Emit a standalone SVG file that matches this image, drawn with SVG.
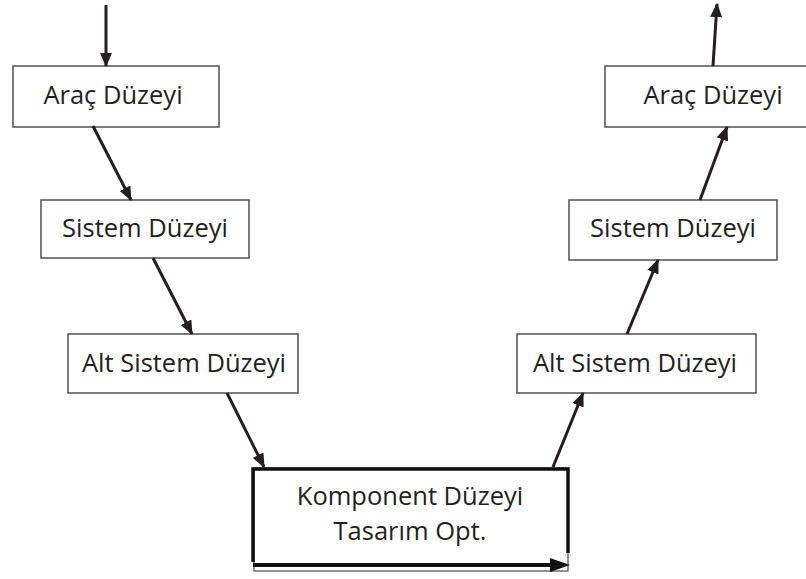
<svg xmlns="http://www.w3.org/2000/svg" width="806" height="579" viewBox="0 0 806 579">
<style>
.box{fill:#fff;stroke:#5a5a5a;stroke-width:1.6}
.lbl{font-family:"Open Sans","Noto Sans",sans-serif;font-size:25.5px;fill:#231f20;text-anchor:middle}
.con{stroke:#231f20;stroke-width:3;fill:none;marker-end:url(#ah)}
.thick{stroke:#111;stroke-width:3.5;fill:none}
</style>
<defs>
<marker id="ah" viewBox="0 0 12 10" refX="11" refY="5" markerWidth="4.8" markerHeight="4" orient="auto" markerUnits="strokeWidth">
<path d="M0,0 L12,5 L0,10 Z" fill="#231f20"/>
</marker>
</defs>
<rect width="806" height="579" fill="#fff"/>
<g id="n1"><rect class="box" x="13" y="66" width="206" height="61"/><text class="lbl" x="113" y="104">Araç Düzeyi</text></g>
<g id="n2"><rect class="box" x="41" y="200" width="208" height="58"/><text class="lbl" x="145" y="237">Sistem Düzeyi</text></g>
<g id="n3"><rect class="box" x="68" y="334" width="230" height="59"/><text class="lbl" x="184" y="372">Alt Sistem Düzeyi</text></g>
<g id="n4">
<rect x="254" y="468" width="314" height="103" fill="#fff" stroke="#4e5966" stroke-width="1.3"/>
<path class="thick" d="M253,562 L253,469 L568,469 L568,553"/>
<text class="lbl" x="410" y="505">Komponent Düzeyi</text>
<text class="lbl" x="410" y="540">Tasarım Opt.</text>
</g>
<g id="n5"><rect class="box" x="517" y="334" width="239" height="59"/><text class="lbl" x="635" y="372">Alt Sistem Düzeyi</text></g>
<g id="n6"><rect class="box" x="569" y="200" width="208" height="60"/><text class="lbl" x="673" y="237">Sistem Düzeyi</text></g>
<g id="n7"><rect class="box" x="605" y="66" width="210" height="61"/><text class="lbl" x="713" y="104">Araç Düzeyi</text></g>
<g id="connectors">
<line class="con" x1="106" y1="5" x2="106" y2="66"/>
<line class="con" x1="93" y1="126" x2="131" y2="200"/>
<line class="con" x1="153" y1="258" x2="192" y2="334"/>
<line class="con" x1="227" y1="393" x2="264" y2="467"/>
<line class="con" x1="553" y1="467" x2="583" y2="393"/>
<line class="con" x1="627" y1="334" x2="658" y2="260"/>
<line class="con" x1="700" y1="200" x2="727" y2="127"/>
<line class="con" x1="713" y1="66" x2="717" y2="4"/>
<line x1="253" y1="565" x2="554" y2="565" stroke="#111" stroke-width="4"/>
<path d="M550,558 L570,565 L550,572 Z" fill="#111"/>
</g>
</svg>
